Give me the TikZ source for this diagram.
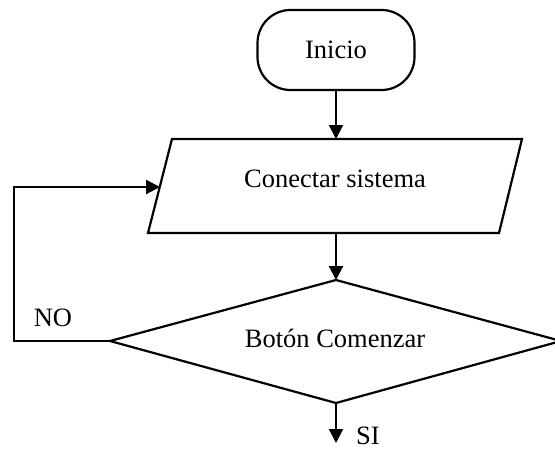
\documentclass[tikz,border=0pt]{standalone}
\usepackage{fontspec}
\setmainfont{Liberation Serif}
\usetikzlibrary{arrows.meta}
\begin{document}
\begin{tikzpicture}[x=1pt,y=-1pt,
  line width=2.2pt,
  every node/.style={font=\fontsize{26.5}{30}\selectfont, inner sep=0pt},
  term/.style={draw, rounded corners=33pt, minimum width=157pt, minimum height=80pt},
  arr/.style={-{Triangle[length=14pt,width=14pt]}}]
\useasboundingbox (0,0) rectangle (555,450);

% start terminator
\node[term] (ini) at (336,50) {Inicio};

% input parallelogram
\coordinate (pTL) at (172,139);
\coordinate (pTR) at (522,139);
\coordinate (pBR) at (499,233);
\coordinate (pBL) at (148,233);
\draw (pTL) -- (pTR) -- (pBR) -- (pBL) -- cycle;
\node (con) at (335,179) {Conectar sistema};
\coordinate (conTop) at (336,139);
\coordinate (conBot) at (336,233);
\coordinate (conLeft) at (160,187);

% decision diamond
\coordinate (dT) at (336,280);
\coordinate (dR) at (561,341);
\coordinate (dB) at (336,403);
\coordinate (dL) at (110,341);
\draw (dT) -- (dR) -- (dB) -- (dL) -- cycle;
\node (dec) at (335,338) {Botón Comenzar};

% connectors
\draw[arr] (ini.south) -- (conTop);
\draw[arr] (conBot) -- (dT);
\coordinate (loopC) at (14,341);
\draw[arr] (dL) -- (loopC) |- (conLeft);
\coordinate (yes) at (336,443);
\draw[arr] (dB) -- (yes);

% branch labels
\node (no) at (53,318) {NO};
\node (si) at (368,436) {SI};
\end{tikzpicture}
\end{document}
